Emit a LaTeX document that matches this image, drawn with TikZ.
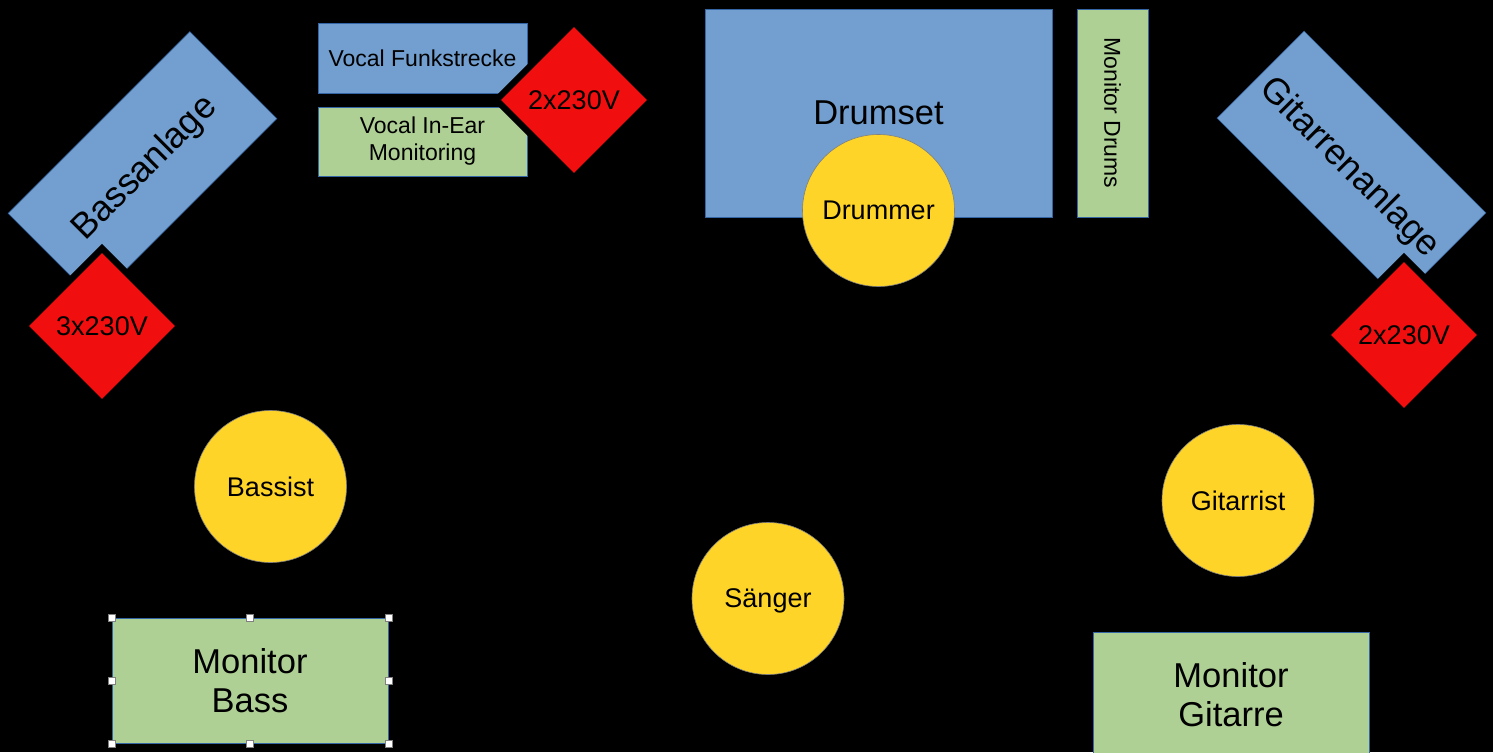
\documentclass[tikz,border=0pt]{standalone}
\usepackage{fontspec}
\setmainfont{Liberation Sans}
\usepackage{tikz}
\usetikzlibrary{shapes.geometric}
\definecolor{amp}{HTML}{729FCF}
\definecolor{mon}{HTML}{AFD095}
\definecolor{power}{HTML}{F00E0E}
\definecolor{person}{HTML}{FFD428}
\definecolor{rim}{HTML}{3465A4}
\newcommand{\fs}[2]{\fontsize{#1}{#2}\selectfont}

\begin{document}
\begin{tikzpicture}[x=1pt, y=-1pt,
  box/.style={draw=rim, line width=0.6pt, inner sep=0pt},
  ampbox/.style={box, fill=amp},
  monbox/.style={box, fill=mon},
  plug/.style={diamond, draw=black, line width=6.4pt, fill=power, minimum size=158pt, inner sep=0pt, font=\fs{27}{31}},
  musician/.style={circle, draw=gray, line width=0.6pt, fill=person, minimum size=152pt, inner sep=0pt, text depth=0pt, font=\fs{27}{31}},
  handle/.style={draw=gray, fill=white, line width=0.6pt, minimum size=7pt, inner sep=0pt}]
\useasboundingbox (0, 0) rectangle (1493, 752);
\fill[black] (0, 0) rectangle (1493, 752);
\node[ampbox, rotate=45, minimum width=257pt, minimum height=123pt, text depth=0pt, font=\fs{36}{40}] (bassamp) at (142.5, 166) {Bassanlage};
\node[plug] (bassplug) at (102, 326) {3x230V};
\node[ampbox, minimum width=209pt, minimum height=70pt, font=\fs{23}{27}] (funk) at (422.5, 58) {Vocal Funkstrecke};
\node[monbox, minimum width=209pt, minimum height=69pt, align=center, font=\fs{23}{27}] (inear) at (422.5, 141.5) {Vocal In-Ear\\Monitoring};
\node[plug] (vocalplug) at (574, 100) {2x230V};
\node[ampbox, minimum width=347pt, minimum height=208pt, font=\fs{34.5}{38.5}] (drumset) at (878.5, 113) {Drumset};
\node[musician] (drummer) at (878.5, 210.5) {Drummer};
\node[monbox, rotate=-90, minimum width=208pt, minimum height=71pt, font=\fs{23}{27}] (drummon) at (1112.5, 113) {Monitor Drums};
\node[ampbox, rotate=-45, minimum width=257pt, minimum height=123pt, text depth=0pt, font=\fs{36}{40}] (gtramp) at (1351.5, 165.5) {Gitarrenanlage};
\node[plug] (gtrplug) at (1404, 335) {2x230V};
\node[musician] (bassist) at (270.5, 486.5) {Bassist};
\node[musician] (gitarrist) at (1238, 500.5) {Gitarrist};
\node[musician] (saenger) at (768, 598.5) {Sänger};
\node[monbox, minimum width=276pt, minimum height=125pt, align=center, font=\fs{34.5}{38.5}] (bassmon) at (250, 680.5) {Monitor\\Bass};
\node[monbox, minimum width=276pt, minimum height=125pt, align=center, font=\fs{34.5}{38.5}] (gtrmon) at (1231, 694.5) {Monitor\\Gitarre};
\foreach \a [count=\i] in {north west, north, north east, east, south east, south, south west, west}
  \node[handle] (h\i) at (bassmon.\a) {};
\end{tikzpicture}
\end{document}
